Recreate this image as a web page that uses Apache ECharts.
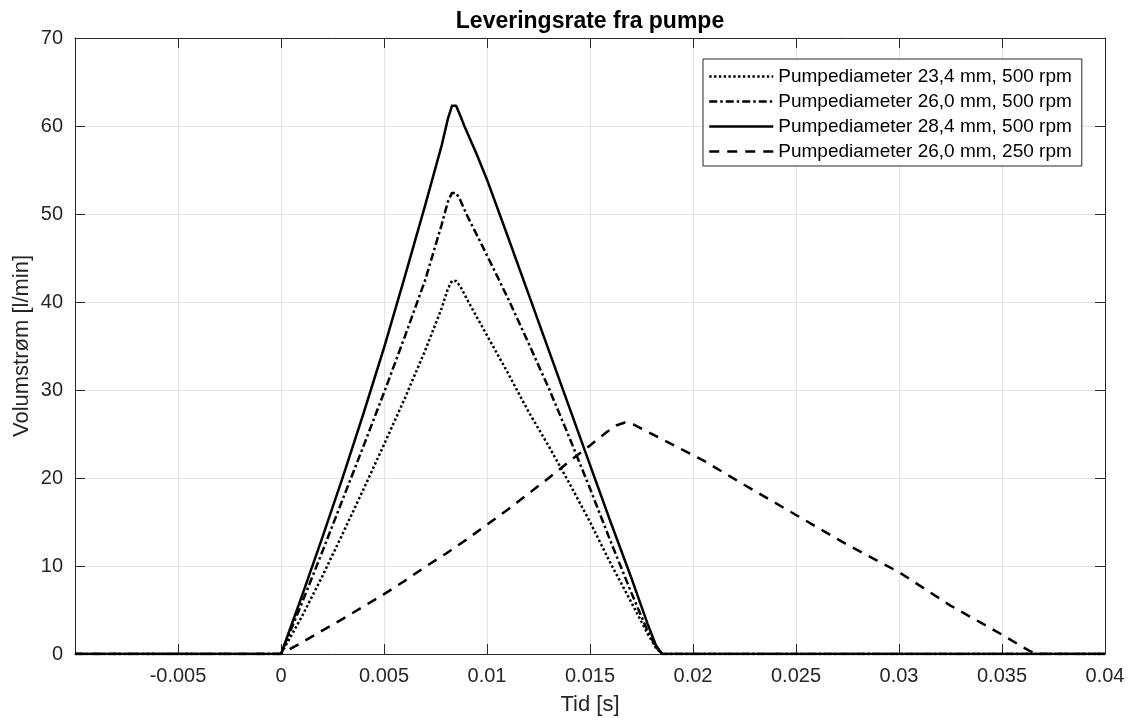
<!DOCTYPE html>
<html>
<head>
<meta charset="utf-8">
<script src="https://cdn.jsdelivr.net/npm/echarts@6/dist/echarts.min.js"></script>
<style>
html,body{margin:0;padding:0;background:#fff;}
#chart{width:1130px;height:722px;}
</style>
</head>
<body>
<div id="chart"></div>
<script>
// ---- Data ----
const titleText = 'Leveringsrate fra pumpe';
const xName = 'Tid [s]';
const yName = 'Volumstrøm [l/min]';
const seriesNames = [
  'Pumpediameter 23,4 mm, 500 rpm',
  'Pumpediameter 26,0 mm, 500 rpm',
  'Pumpediameter 28,4 mm, 500 rpm',
  'Pumpediameter 26,0 mm, 250 rpm'
];
const xMin = -0.01, xMax = 0.04, xStep = 0.005;
const yMin = 0, yMax = 70, yStep = 10;

const timeA = [-0.01, 0, 0.001, 0.002, 0.003, 0.004, 0.005, 0.006, 0.007, 0.0078, 0.0081, 0.0083, 0.0085, 0.0087, 0.0091, 0.010, 0.011, 0.012, 0.013, 0.014, 0.015, 0.016, 0.017, 0.0178, 0.0182, 0.0185, 0.04];
const flowA = [0, 0, 4.2, 8.8, 13.7, 18.7, 23.8, 29, 34.5, 39.3, 41.5, 42.4, 42.4, 41.8, 40, 36.2, 32, 27.6, 23.6, 19.4, 15, 10.3, 5.9, 2.3, 0.7, 0, 0];

const timeB = [-0.01, 0, 0.001, 0.002, 0.003, 0.004, 0.005, 0.006, 0.007, 0.0078, 0.0081, 0.0083, 0.0085, 0.0087, 0.009, 0.010, 0.011, 0.012, 0.013, 0.014, 0.015, 0.016, 0.017, 0.0178, 0.0182, 0.0185, 0.04];
const flowB = [0, 0, 5.7, 11.6, 17.6, 23.6, 29.7, 36.0, 42.5, 48.8, 51.4, 52.4, 52.4, 51.6, 50, 45.3, 40.5, 35.4, 30.2, 24.6, 18.8, 12.8, 7.0, 2.6, 0.8, 0, 0];

const timeC = [-0.01, 0, 0.001, 0.002, 0.003, 0.004, 0.005, 0.006, 0.007, 0.0078, 0.0081, 0.0083, 0.0085, 0.0087, 0.0089, 0.0095, 0.010, 0.011, 0.012, 0.013, 0.014, 0.015, 0.016, 0.017, 0.0178, 0.0182, 0.0185, 0.04];
const flowC = [0, 0, 6.5, 13.2, 20.1, 27.3, 34.8, 42.8, 51.0, 57.8, 60.8, 62.3, 62.3, 61.2, 60, 56.8, 53.9, 47.5, 41, 34.5, 28, 21.5, 15, 8.7, 3.4, 1.0, 0, 0];

const timeD = [-0.01, 0, 0.001, 0.002, 0.003, 0.004, 0.005, 0.006, 0.007, 0.008, 0.009, 0.010, 0.011, 0.012, 0.013, 0.014, 0.015, 0.0158, 0.0163, 0.0167, 0.0171, 0.0175, 0.0185, 0.0195, 0.0205, 0.0215, 0.0225, 0.025, 0.0275, 0.030, 0.0325, 0.035, 0.036, 0.0365, 0.0368, 0.04];
const flowD = [0, 0, 1.3, 2.65, 4.0, 5.4, 6.8, 8.3, 9.9, 11.4, 13.0, 14.7, 16.4, 18.2, 20.0, 21.9, 23.7, 25.2, 26.0, 26.3, 26.1, 25.6, 24.4, 23.2, 22.0, 20.6, 19.2, 15.8, 12.4, 9.3, 5.5, 2.2, 0.8, 0.15, 0, 0];

// ---- Build chart ----
const zip = (t, v) => t.map((x, i) => [x, v[i]]);
const dashes = [[2.4, 2.4], [8, 3, 2.5, 3], 'solid', [10, 8]];
const times = [timeA, timeB, timeC, timeD];
const flows = [flowA, flowB, flowC, flowD];

const FONT = 'Liberation Sans, Arial, Helvetica, sans-serif';
const AX = '#262626';
const GRIDC = '#e3e3e3';

const chart = echarts.init(document.getElementById('chart'), null, {renderer: 'canvas'});

const baseX = {
  type: 'value', min: xMin, max: xMax, interval: xStep,
  axisLine: {show: true, onZero: false, lineStyle: {color: AX, width: 1}},
  axisTick: {show: true, inside: true, length: 10, lineStyle: {color: AX, width: 1}},
};
const baseY = {
  type: 'value', min: yMin, max: yMax, interval: yStep,
  axisLine: {show: true, onZero: false, lineStyle: {color: AX, width: 1}},
  axisTick: {show: true, inside: true, length: 10, lineStyle: {color: AX, width: 1}},
};

const option = {
  animation: false,
  backgroundColor: '#fff',
  title: {
    text: titleText, left: 585, top: 5, textAlign: 'center',
    textStyle: {fontFamily: FONT, fontSize: 23, fontWeight: 'bold', color: '#000'}
  },
  grid: {left: 75, right: 25, top: 38, bottom: 68, containLabel: false},
  legend: {
    orient: 'vertical', left: 703, top: 59,
    padding: [8, 10, 5, 5], itemGap: 6, itemWidth: 64, itemHeight: 14,
    backgroundColor: '#fff', borderColor: AX, borderWidth: 1, borderRadius: 0,
    itemStyle: {opacity: 0},
    lineStyle: {width: 2.5, color: '#000', cap: 'butt'},
    textStyle: {fontFamily: FONT, fontSize: 19, color: '#000', lineHeight: 19},
    data: seriesNames
  },
  xAxis: [
    Object.assign({}, baseX, {
      position: 'bottom',
      name: xName, nameLocation: 'middle', nameGap: 40, nameMoveOverlap: false,
      nameTextStyle: {fontFamily: FONT, fontSize: 22, color: AX},
      axisLabel: {
        show: true, margin: 12, fontFamily: FONT, fontSize: 20, color: AX,
        formatter: v => (v < xMin + 1e-6) ? '' : String(+v.toFixed(4))
      },
      splitLine: {show: true, lineStyle: {color: GRIDC, width: 1}}
    }),
    Object.assign({}, baseX, {
      position: 'top', axisLabel: {show: false}, splitLine: {show: false}
    })
  ],
  yAxis: [
    Object.assign({}, baseY, {
      position: 'left',
      name: yName, nameLocation: 'middle', nameGap: 42, nameRotate: 90, nameMoveOverlap: false,
      nameTextStyle: {fontFamily: FONT, fontSize: 22, color: AX},
      axisLabel: {show: true, margin: 12, fontFamily: FONT, fontSize: 20, color: AX},
      splitLine: {show: true, lineStyle: {color: GRIDC, width: 1}}
    }),
    Object.assign({}, baseY, {
      position: 'right', axisLabel: {show: false}, splitLine: {show: false}
    })
  ],
  series: seriesNames.map((name, i) => ({
    name: name, type: 'line', xAxisIndex: 0, yAxisIndex: 0,
    data: zip(times[i], flows[i]),
    symbol: 'none', showSymbol: false, smooth: false,
    lineStyle: {color: '#000', width: 2.5, type: dashes[i], cap: 'butt', join: 'round'},
    itemStyle: {color: '#000'},
    z: 3
  }))
};
chart.setOption(option);
</script>
</body>
</html>
